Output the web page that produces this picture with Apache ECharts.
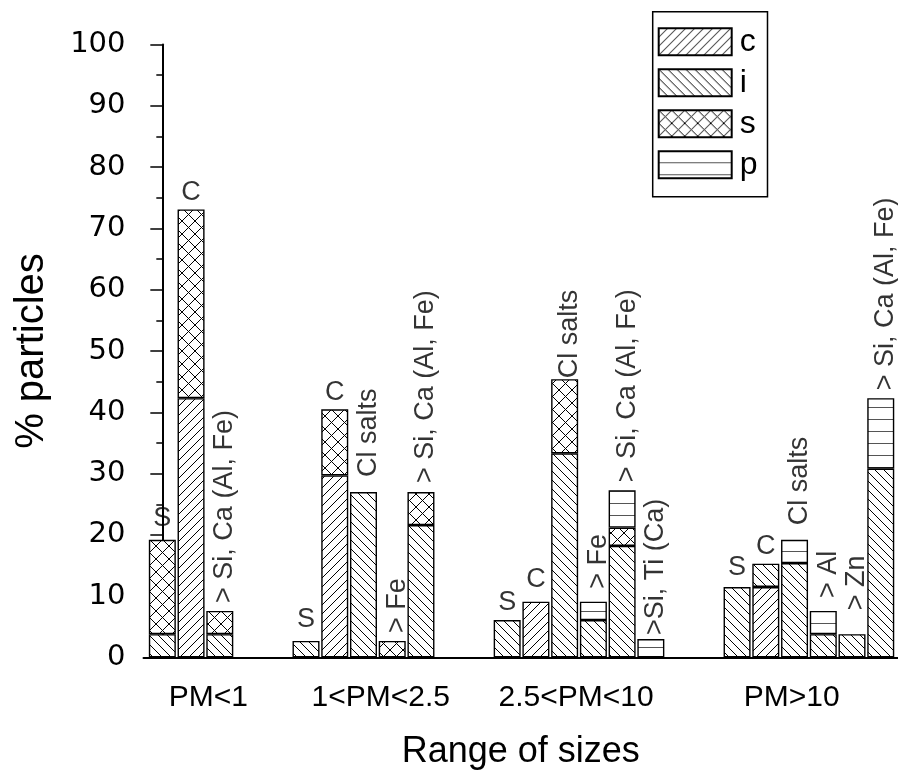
<!DOCTYPE html>
<html>
<head>
<meta charset="utf-8">
<script src="https://cdn.jsdelivr.net/npm/echarts@6/dist/echarts.min.js"></script>
<style>
  html, body { margin: 0; padding: 0; background: #fff; }
  #chart { width: 898px; height: 771px; }
</style>
</head>
<body>
<div id="chart"></div>
<script>
// size ranges (x axis groups)
const groups = ["PM<1", "1<PM<2.5", "2.5<PM<10", "PM>10"];
// where the group names sit on the x axis (in bar slots)
const groupLabelPos = [1.6, 7.6, 14.4, 21.9];

// one entry per bar
const barLabels = [
  "S", "C", "> Si, Ca (Al, Fe)",
  "S", "C", "Cl salts", "> Fe", "> Si, Ca (Al, Fe)",
  "S", "C", "Cl salts", "> Fe", "> Si, Ca (Al, Fe)", ">Si, Ti (Ca)",
  "S", "C", "Cl salts", "> Al", "> Zn", "> Si, Ca (Al, Fe)",
];
const barGroup = [0, 0, 0, 1, 1, 1, 1, 1, 2, 2, 2, 2, 2, 2, 3, 3, 3, 3, 3, 3];

// stacked values, % particles
const cVals = [0, 42.3, 0, 0, 29.7, 0, 0, 0, 0, 9.1, 0, 0, 0, 0, 0, 11.5, 0, 0, 0, 0];
const iVals = [3.8, 0, 3.8, 2.7, 0, 27.0, 0, 21.6, 6.1, 0, 33.3, 6.1, 18.2, 0, 11.5, 3.8, 15.4, 3.8, 3.8, 30.8];
const sVals = [15.4, 30.8, 3.8, 0, 10.8, 0, 2.7, 5.4, 0, 0, 12.1, 0, 3.0, 0, 0, 0, 0, 0, 0, 0];
const pVals = [0, 0, 0, 0, 0, 0, 0, 0, 0, 0, 0, 3.0, 6.1, 3.0, 0, 0, 3.8, 3.8, 0, 11.5];

const yTicks = [0, 100, 10];

// layout only: first slot of each group, gap above bar for the labels (px)
const groupStart = [0, 5, 12, 20];
const labelGap = [8, 3, 8, 7.5, 3, 15, 8, 9, 4, 8.5, 1, 13, 8, 4, 5.7, 4, 14.5, 13, 24, 8];

const FONT = "Liberation Sans";

// slot of every bar on the x axis
const slot = [];
barGroup.forEach(function (g, k) {
  const n = barGroup.slice(0, k).filter(function (x) { return x === g; }).length;
  slot.push(groupStart[g] + n);
});

function hatch(kind) {
  const P = { c: 9, i: 9, s: 13, p: 12 }[kind];
  const cv = document.createElement("canvas");
  cv.width = P;
  cv.height = P;
  const g = cv.getContext("2d");
  g.fillStyle = "#fff";
  g.fillRect(0, 0, P, P);
  g.strokeStyle = kind === "p" ? "#555" : "#000";
  g.lineWidth = 1;
  g.beginPath();
  if (kind === "c" || kind === "s") {
    g.moveTo(0, P); g.lineTo(P, 0);
    g.moveTo(-1, 1); g.lineTo(1, -1);
    g.moveTo(P - 1, P + 1); g.lineTo(P + 1, P - 1);
  }
  if (kind === "i" || kind === "s") {
    g.moveTo(0, 0); g.lineTo(P, P);
    g.moveTo(-1, P - 1); g.lineTo(1, P + 1);
    g.moveTo(P - 1, -1); g.lineTo(P + 1, 1);
  }
  if (kind === "p") {
    g.moveTo(0, P - 0.5); g.lineTo(P, P - 0.5);
  }
  g.stroke();
  return { image: cv, repeat: "repeat" };
}

// value first so the stack runs along y (x is a value axis too)
function barSeries(name, vals) {
  return {
    name: name,
    type: "bar",
    stack: "all",
    barWidth: 27,
    encode: { x: 1, y: 0 },
    itemStyle: { color: hatch(name), borderColor: "#000", borderWidth: 1.4 },
    emphasis: { disabled: true },
    data: vals.map(function (v, k) { return [v === 0 ? "-" : v, slot[k]]; }),
  };
}

const totals = cVals.map(function (v, k) { return v + iVals[k] + sVals[k] + pVals[k]; });

let myChart = echarts.init(document.getElementById("chart"));
let option = {
  animation: false,
  backgroundColor: "#fff",
  grid: { left: 143.5, right: 0, top: 44.5, bottom: 113.5, containLabel: false, outerBoundsMode: "none" },
  legend: {
    orient: "vertical",
    left: 652.7,
    top: 11.7,
    data: ["c", "i", "s", "p"],
    icon: "rect",
    itemWidth: 73,
    itemHeight: 27,
    itemGap: 9,
    padding: [14, 10, 16, 5],
    borderColor: "#000",
    borderWidth: 1.5,
    textStyle: { fontFamily: FONT, fontSize: 32, color: "#000", padding: [0, 0, 0, 3] },
    selectedMode: false,
  },
  xAxis: {
    type: "value",
    min: -0.655,
    max: 25.6,
    splitLine: { show: false },
    axisLine: { lineStyle: { color: "#000", width: 2 } },
    axisTick: { show: false },
    axisLabel: {
      customValues: groupLabelPos,
      formatter: function (v) { return groups[groupLabelPos.indexOf(v)]; },
      fontFamily: FONT,
      fontSize: 30,
      color: "#000",
      margin: 25,
    },
    name: "Range of sizes",
    nameLocation: "middle",
    nameGap: 77,
    nameTextStyle: { fontFamily: FONT, fontSize: 36, color: "#000" },
  },
  yAxis: {
    type: "value",
    min: yTicks[0],
    max: yTicks[1],
    interval: yTicks[2],
    splitLine: { show: false },
    axisLine: { show: true, lineStyle: { color: "#000", width: 2 } },
    axisTick: { show: true, length: 12, lineStyle: { color: "#000", width: 1.5 } },
    minorTick: { show: true, splitNumber: 2, length: 6, lineStyle: { color: "#000", width: 1.5 } },
    axisLabel: { fontFamily: "DejaVu Sans", fontSize: 29, color: "#000", margin: 18 },
    name: "% particles",
    nameLocation: "middle",
    nameRotate: 90,
    nameGap: 92,
    nameTextStyle: { fontFamily: FONT, fontSize: 40, color: "#000" },
  },
  series: [
    barSeries("c", cVals),
    barSeries("i", iVals),
    barSeries("s", sVals),
    barSeries("p", pVals),
    {
      name: "labels",
      type: "scatter",
      symbolSize: 0,
      silent: true,
      data: totals.map(function (t, k) {
        const rot = barLabels[k].length > 1;
        return {
          value: [slot[k], t],
          label: rot
            ? { rotate: 90, align: "left", verticalAlign: "middle", distance: labelGap[k], offset: [0, 5] }
            : { distance: labelGap[k] },
        };
      }),
      label: {
        show: true,
        position: "top",
        fontFamily: FONT,
        fontSize: 27,
        color: "#000",
        formatter: function (p) { return barLabels[p.dataIndex]; },
      },
    },
  ],
};
myChart.setOption(option);
</script>
</body>
</html>
